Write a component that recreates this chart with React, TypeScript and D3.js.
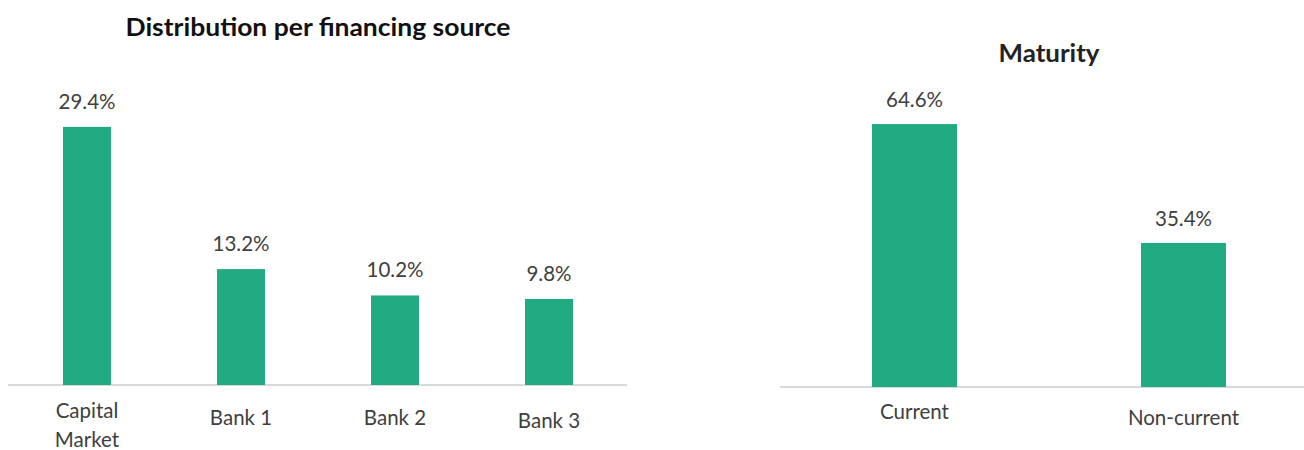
import React from "react";
import * as d3 from "d3";

const sourceCategories = ["Capital Market", "Bank 1", "Bank 2", "Bank 3"];
const sourceValues = [29.4, 13.2, 10.2, 9.8];
const maturityCategories = ["Current", "Non-current"];
const maturityValues = [64.6, 35.4];

const FONT = "Lato, 'Open Sans', sans-serif";
const BAR = "#22aa82";
const TEXT = "#404040";
const FS = 20.5;

export default function App() {
  const xL = d3.scaleBand<string>().domain(sourceCategories).range([10, 626]).padding(0);
  const yL = d3.scaleLinear().domain([0, 30]).range([385, 121.6]);
  const bwL = 48;

  const xR = d3.scaleBand<string>().domain(maturityCategories).range([780, 1318]).padding(0);
  const yR = d3.scaleLinear().domain([0, 70]).range([387, 102.1]);
  const bwR = 85;

  const fmt = (v: number) => v.toFixed(1) + "%";
  const catOffsetL = [0, 7, 7, 10];

  return (
    <svg width={1304} height={450} style={{ position: "absolute", left: 0, top: 0, background: "#fff" }} fontFamily={FONT}>
      <text x={318} y={36} textAnchor="middle" fontSize={24} fontWeight={700} fill="#111"
        textLength={385} lengthAdjust="spacingAndGlyphs">
        Distribution per financing source
      </text>
      <line x1={8} x2={627} y1={yL(0)} y2={yL(0)} stroke="#d9d9d9" strokeWidth={2} />
      {sourceCategories.map((c, i) => {
        const cx = (xL(c) as number) + xL.bandwidth() / 2;
        const v = sourceValues[i];
        const lines = c === "Capital Market" ? c.split(" ") : [c];
        return (
          <g key={c}>
            <rect x={cx - bwL / 2} y={yL(v)} width={bwL} height={yL(0) - yL(v)} fill={BAR} />
            <text x={cx} y={yL(v) - 18} textAnchor="middle" fontSize={FS} fill={TEXT}>{fmt(v)}</text>
            {lines.map((ln, j) => (
              <text key={j} x={cx} y={yL(0) + 33 + catOffsetL[i] + j * 29} textAnchor="middle" fontSize={FS} fill={TEXT}>{ln}</text>
            ))}
          </g>
        );
      })}

      <text x={1049} y={62} textAnchor="middle" fontSize={24} fontWeight={700} fill="#222"
        textLength={101} lengthAdjust="spacingAndGlyphs">
        Maturity
      </text>
      <line x1={780} x2={1304} y1={yR(0)} y2={yR(0)} stroke="#d9d9d9" strokeWidth={2} />
      {maturityCategories.map((c, i) => {
        const cx = (xR(c) as number) + xR.bandwidth() / 2;
        const v = maturityValues[i];
        return (
          <g key={c}>
            <rect x={cx - bwR / 2} y={yR(v)} width={bwR} height={yR(0) - yR(v)} fill={BAR} />
            <text x={cx} y={yR(v) - 17} textAnchor="middle" fontSize={FS} fill={TEXT}>{fmt(v)}</text>
            <text x={cx} y={yR(0) + 32 + i * 6} textAnchor="middle" fontSize={FS} fill={TEXT}>{c}</text>
          </g>
        );
      })}
    </svg>
  );
}
